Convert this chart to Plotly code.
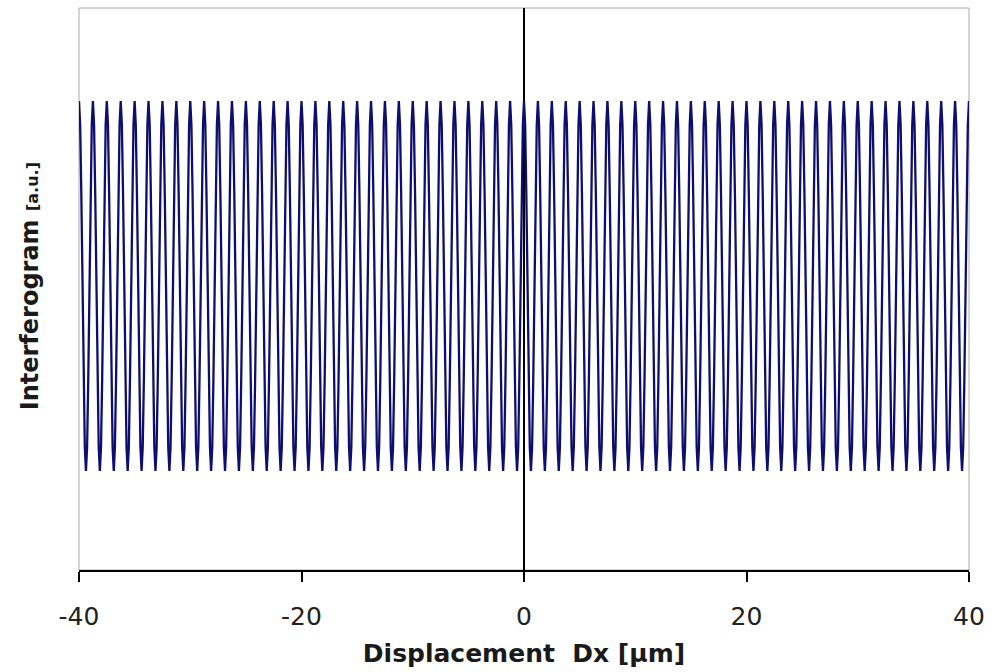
import plotly.graph_objects as go

# Scan settings of the interferogram (displacement in micrometres)
scan_start_um = -40.0
fringe_period_um = 1.25
fringe_count = 64

# Relative detector intensity over one fringe, sampled 12 times per period
fringe_profile = [1.0, 0.87, 0.5, 0.0, -0.5, -0.87, -1.0, -0.87, -0.5, 0.0, 0.5, 0.87]

x_ticks = [-40, -20, 0, 20, 40]
x_tick_labels = ["-40", "-20", "0", "20", "40"]

# Assemble the sampled scan: the fringe profile repeats along the displacement
step = fringe_period_um / len(fringe_profile)
displacement = []
intensity = []
for k in range(fringe_count):
    for j, v in enumerate(fringe_profile):
        displacement.append(scan_start_um + (k * len(fringe_profile) + j) * step)
        intensity.append(v)
displacement.append(scan_start_um + fringe_count * fringe_period_um)
intensity.append(fringe_profile[0])

fig = go.Figure()
fig.add_trace(go.Scatter(
    x=displacement, y=intensity, mode="lines",
    line=dict(color="#0e0e70", width=2.3),
    showlegend=False, hoverinfo="skip",
))

font_family = "DejaVu Sans"

fig.update_layout(
    width=1002, height=672,
    margin=dict(l=79, r=33, t=8, b=102),
    paper_bgcolor="white", plot_bgcolor="white",
    xaxis=dict(
        range=[-40, 40], tickvals=x_ticks, ticktext=x_tick_labels,
        showgrid=False, zeroline=True, zerolinecolor="black", zerolinewidth=1.5,
        showline=True, linecolor="black", linewidth=1.5,
        ticks="outside", ticklen=10, tickwidth=1.5, tickcolor="black",
        tickfont=dict(family=font_family, size=25, color="#222222"),
        ticklabelstandoff=13,
        title=dict(text="<b>Displacement \u00a0Dx [µm]</b>",
                   font=dict(family=font_family, size=25, color="#1a1a1a"),
                   standoff=15),
    ),
    yaxis=dict(
        range=[-1.535, 1.503], showticklabels=False, ticks="",
        showgrid=False, zeroline=False, showline=False,
    ),
    shapes=[dict(type="rect", xref="paper", yref="paper", x0=0, x1=1, y0=0, y1=1,
                 line=dict(color="#a8a8a8", width=1), layer="below")],
    annotations=[dict(
        text="<b>Interferogram <span style='font-size:16px'>[a.u.]</span></b>",
        xref="paper", yref="paper", x=-0.055, y=0.505,
        xanchor="center", yanchor="middle", textangle=-90, showarrow=False,
        font=dict(family=font_family, size=24, color="#1a1a1a"),
    )],
)

fig.write_html("out.html")
